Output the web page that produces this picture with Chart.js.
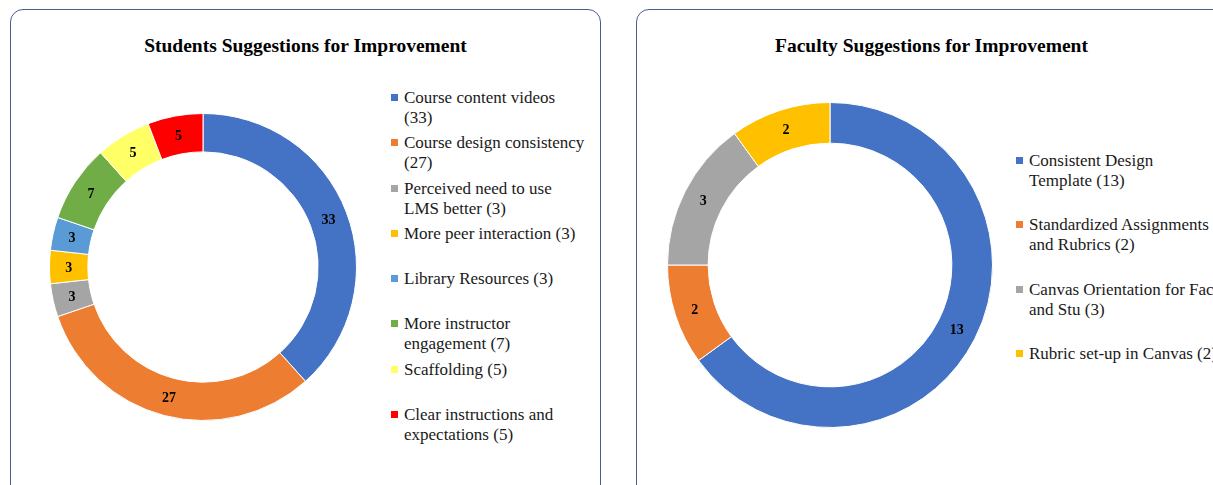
<!DOCTYPE html>
<html>
<head>
<meta charset="utf-8">
<script src="https://cdn.jsdelivr.net/npm/chart.js@4.4.0/dist/chart.umd.min.js"></script>
<style>
  body { margin: 0; width: 1213px; height: 485px; overflow: hidden; background: #fff;
         font-family: "Liberation Serif", "Times New Roman", serif; position: relative; }
  .card { position: absolute; top: 9px; width: 591px; height: 520px; box-sizing: border-box;
          border: 1.5px solid #4a5e8c; border-radius: 13px; background: #fff; }
  .title { position: absolute; top: 34px; font-weight: bold; font-size: 19.5px; line-height: 24px;
           text-align: center; color: #000; white-space: nowrap; }
  .legend { position: absolute; font-size: 17px; line-height: 20px; color: #1a1a1a; }
  .legend .item { position: relative; padding-left: 13px; }
  .legend .sw { position: absolute; left: 0; top: 6px; width: 7px; height: 7px; }
  canvas { position: absolute; }
</style>
</head>
<body>
<div class="card" style="left:10px"></div>
<div class="card" style="left:636px"></div>
<div class="title" id="t1" style="left:10px;width:591px"></div>
<div class="title" id="t2" style="left:636px;width:591px"></div>
<canvas id="studentChart" width="308" height="308" style="left:49px;top:113px"></canvas>
<canvas id="facultyChart" width="326" height="326" style="left:667px;top:102px"></canvas>
<div class="legend" id="leg1" style="left:391px;top:88px;width:196px"></div>
<div class="legend" id="leg2" style="left:1016px;top:151px;width:203px"></div>
<script>
// 学生数据
const studentTitle = 'Students Suggestions for Improvement';
const studentCategories = ['Course content videos', 'Course design consistency', 'Perceived need to use LMS better',
  'More peer interaction', 'Library Resources', 'More instructor engagement', 'Scaffolding',
  'Clear instructions and expectations'];
const studentValues = [33, 27, 3, 3, 3, 7, 5, 5];
const studentColors = ['#4472C4', '#ED7D31', '#A5A5A5', '#FFC000', '#5B9BD5', '#70AD47', '#FFFF66', '#FF0000'];

// 教师数据
const facultyTitle = 'Faculty Suggestions for Improvement';
const facultyCategories = ['Consistent Design Template', 'Standardized Assignments and Rubrics',
  'Canvas Orientation for Fac and Stu', 'Rubric set-up in Canvas'];
const facultyValues = [13, 2, 3, 2];
const facultyColors = ['#4472C4', '#ED7D31', '#A5A5A5', '#FFC000'];

// 在每段圆环中间写数值
const valueLabels = {
  id: 'valueLabels',
  afterDatasetsDraw(chart) {
    const ctx = chart.ctx;
    const ds = chart.data.datasets[0];
    ctx.save();
    ctx.font = 'bold 14px "Liberation Serif"';
    ctx.fillStyle = '#000';
    ctx.textAlign = 'center';
    ctx.textBaseline = 'middle';
    chart.getDatasetMeta(0).data.forEach((arc, i) => {
      const p = arc.tooltipPosition();
      ctx.fillText(ds.data[i], p.x, p.y + 1);
    });
    ctx.restore();
  }
};

function makeDonut(id, labels, values, colors) {
  return new Chart(document.getElementById(id), {
    type: 'doughnut',
    data: {
      labels: labels,
      datasets: [{ data: values, backgroundColor: colors, borderColor: '#fff', borderWidth: 1, hoverOffset: 0 }]
    },
    options: {
      responsive: false,
      animation: false,
      cutout: '75%',
      layout: { padding: 0 },
      plugins: { legend: { display: false }, tooltip: { enabled: false } }
    },
    plugins: [valueLabels]
  });
}

function makeLegend(id, labels, values, colors, slot) {
  const box = document.getElementById(id);
  labels.forEach((name, i) => {
    const item = document.createElement('div');
    item.className = 'item';
    item.style.height = slot + 'px';
    item.innerHTML = '<span class="sw" style="background:' + colors[i] + '"></span>' + name + ' (' + values[i] + ')';
    box.appendChild(item);
  });
}

document.getElementById('t1').textContent = studentTitle;
document.getElementById('t2').textContent = facultyTitle;
makeDonut('studentChart', studentCategories, studentValues, studentColors);
makeDonut('facultyChart', facultyCategories, facultyValues, facultyColors);
makeLegend('leg1', studentCategories, studentValues, studentColors, 45.3);
makeLegend('leg2', facultyCategories, facultyValues, facultyColors, 64.3);
</script>
</body>
</html>
